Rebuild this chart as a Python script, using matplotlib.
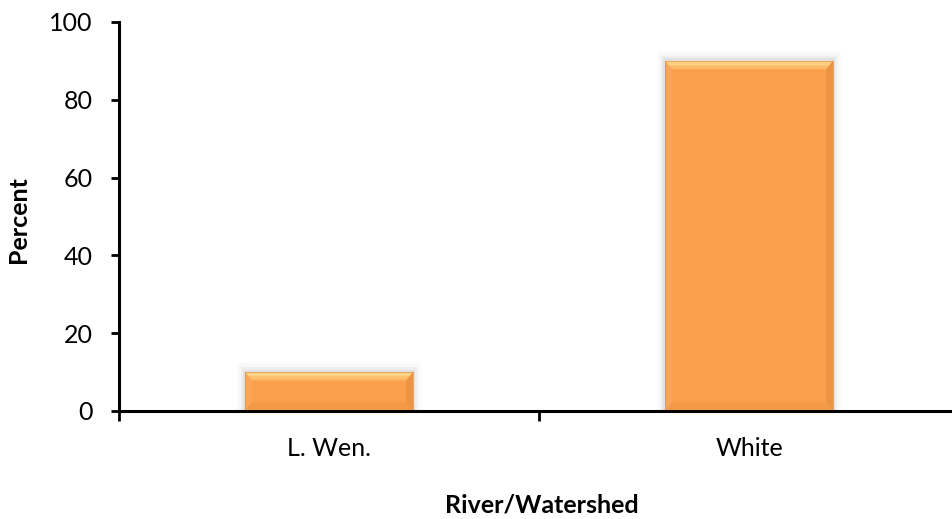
import numpy as np
import matplotlib
matplotlib.use("Agg")
from matplotlib import pyplot as plt
from matplotlib.patches import Polygon, Rectangle

# data
categories = ["L. Wen.", "White"]
percents = [10, 90]
y_ticks = [0, 20, 40, 60, 80, 100]

plt.rcParams['font.family'] = ['Lato', 'DejaVu Sans']

fig = plt.figure(figsize=(9.52, 5.19), dpi=100)
ax = fig.add_axes([119 / 952, 1 - 411 / 519, 840 / 952, 389 / 519])

x = np.arange(len(categories))
bar_w = 0.4
bars = ax.bar(x, percents, width=bar_w, color="#FA9F4C", zorder=2)

fig.canvas.draw()
inv = ax.transData.inverted()
# bevel size in data units (about 9 px)
p0 = inv.transform((0, 0))
p1 = inv.transform((9, 9))
bx, by = p1[0] - p0[0], p1[1] - p0[1]

for b in bars:
    x0, y0 = b.get_x(), b.get_y()
    x1, y1 = x0 + b.get_width(), y0 + b.get_height()
    # soft shadow
    for k, a in enumerate([0.05, 0.035, 0.02, 0.01]):
        d = (k + 1) * bx * 0.3
        ax.add_patch(Rectangle((x0 - d, y0), (x1 - x0) + 2 * d, (y1 - y0) + d * by / bx,
                               color="black", alpha=a, lw=0, zorder=1))
    # top bevel (light, graded)
    n = 6
    for i in range(n):
        t0, t1 = i / n, (i + 1) / n
        c = np.array([1.0, 0.90, 0.60]) * (1 - t0) + np.array([0.99, 0.68, 0.35]) * t0
        ax.add_patch(Polygon([(x0 + bx * t0, y1 - by * t0), (x1 - bx * t0, y1 - by * t0),
                              (x1 - bx * t1, y1 - by * t1), (x0 + bx * t1, y1 - by * t1)],
                             closed=True, color=c, lw=0, zorder=3))
    # left bevel
    ax.add_patch(Polygon([(x0, y1), (x0 + bx, y1 - by), (x0 + bx, y0 + by), (x0, y0)],
                         closed=True, color="#FAA55A", lw=0, zorder=3))
    # right bevel (darker)
    ax.add_patch(Polygon([(x1, y1), (x1 - bx, y1 - by), (x1 - bx, y0 + by), (x1, y0)],
                         closed=True, color="#EC9444", lw=0, zorder=3))
    # bottom bevel
    ax.add_patch(Polygon([(x0, y0), (x0 + bx, y0 + by), (x1 - bx, y0 + by), (x1, y0)],
                         closed=True, color="#F29A48", lw=0, zorder=3))
    ax.add_patch(Rectangle((x0, y0), x1 - x0, y1 - y0, fill=False,
                           edgecolor="#E0914A", lw=0.5, zorder=4))

ax.set_xlim(-0.5, 1.5)
ax.set_ylim(0, 100)
ax.set_yticks(y_ticks)
ax.tick_params(axis="y", labelsize=18, length=6, width=2, direction="out", pad=13)

ax.set_xticks([-0.5, 0.5, 1.5])
ax.set_xticklabels([])
ax.set_xticks(x, minor=True)
ax.set_xticklabels(categories, minor=True)
ax.tick_params(axis="x", which="major", length=7, width=2, direction="out")
ax.tick_params(axis="x", which="minor", length=0, labelsize=18, pad=19)

for s in ["top", "right"]:
    ax.spines[s].set_visible(False)
for s in ["left", "bottom"]:
    ax.spines[s].set_linewidth(2.2)
ax.spines["left"].set_zorder(5)
ax.spines["bottom"].set_zorder(5)

fig.text(542 / 952, 1 - 505 / 519, "River/Watershed", ha="center", va="center",
         fontsize=18, fontweight="bold")
fig.text(19 / 952, 1 - 220 / 519, "Percent", ha="center", va="center",
         rotation=90, fontsize=18, fontweight="bold")

fig.savefig("out.png", dpi=100)
